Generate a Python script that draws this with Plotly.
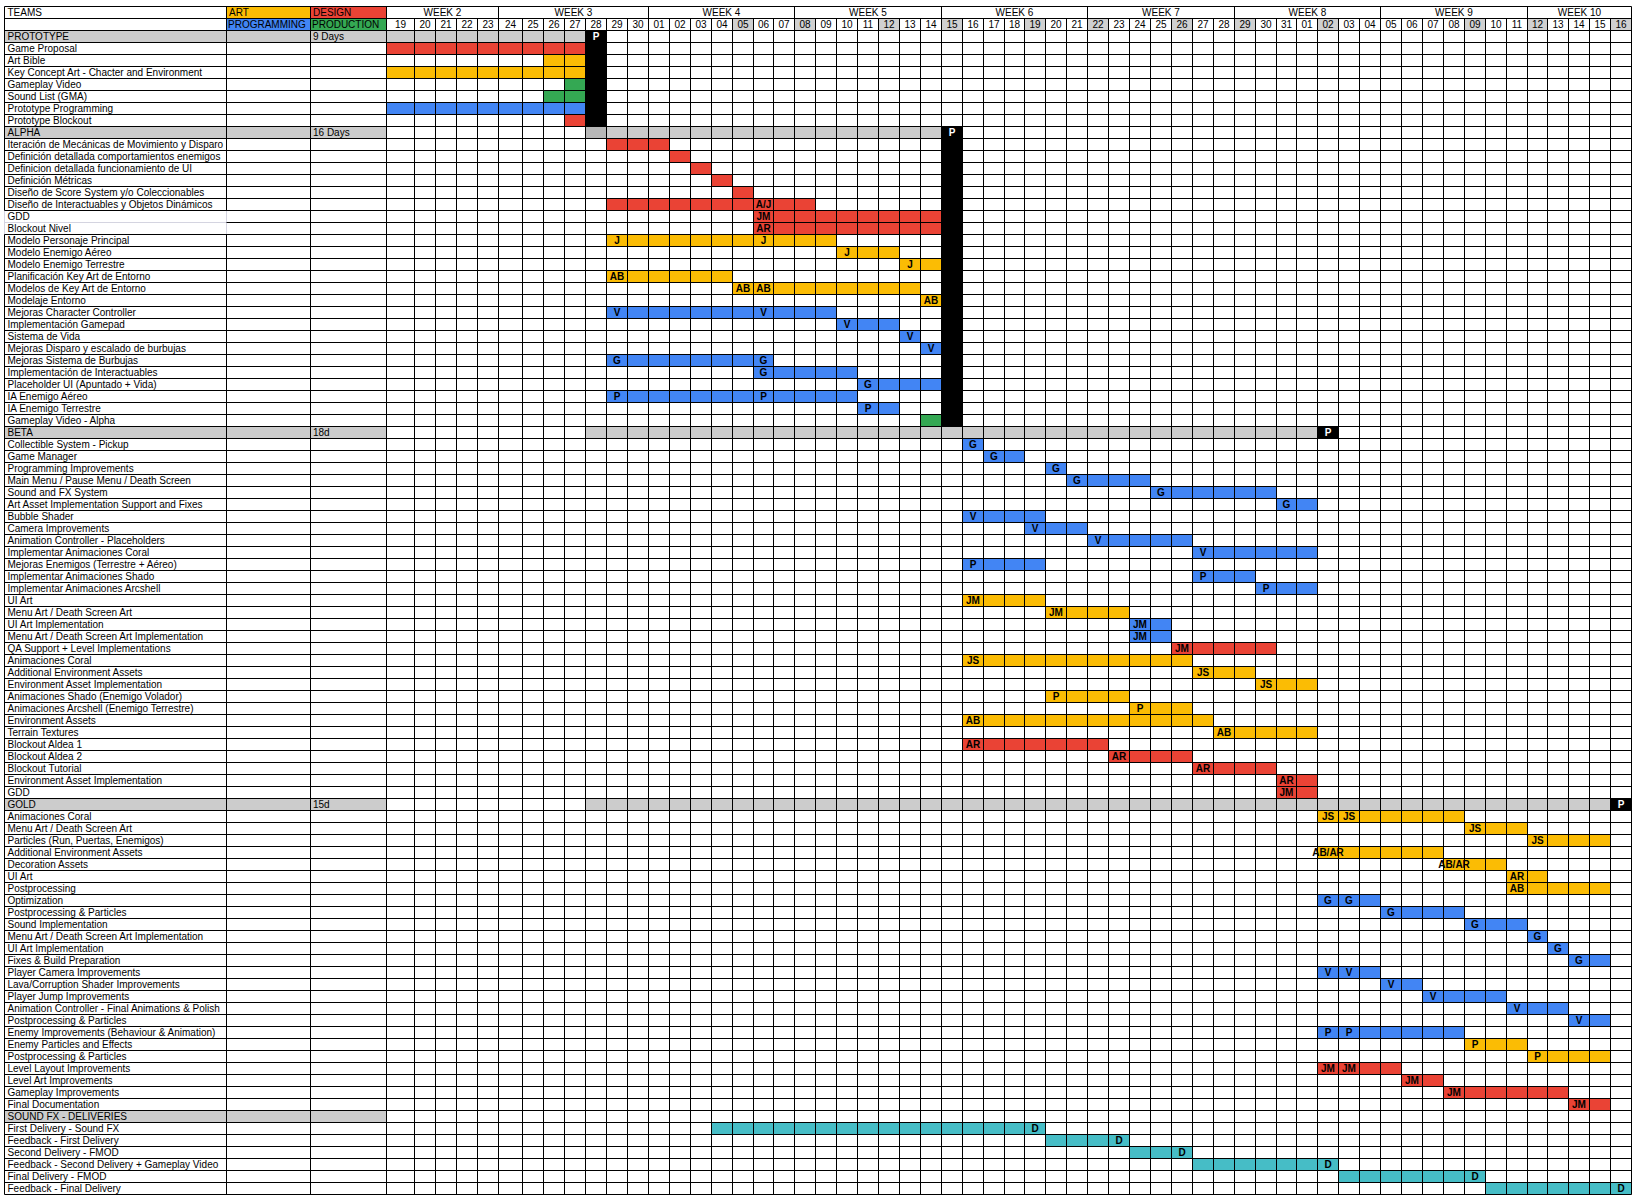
import numpy as np
import plotly.graph_objects as go

# ======================= DATA =======================
DAYS = ["19", "20", "21", "22", "23", "24", "25", "26", "27", "28", "29", "30",
        "01", "02", "03", "04", "05", "06", "07", "08", "09", "10", "11", "12", "13", "14",
        "15", "16", "17", "18", "19", "20", "21", "22", "23", "24", "25", "26", "27", "28",
        "29", "30", "31", "01", "02", "03", "04", "05", "06", "07", "08", "09", "10", "11",
        "12", "13", "14", "15", "16"]
WEEK_NAMES = ["WEEK 2", "WEEK 3", "WEEK 4", "WEEK 5", "WEEK 6", "WEEK 7", "WEEK 8", "WEEK 9", "WEEK 10"]
WEEK_FIRST_DAY = [0, 5, 12, 19, 26, 33, 40, 47, 54]
WEEK_LAST_DAY = [4, 11, 18, 25, 32, 39, 46, 53, 58]
HIGHLIGHT_DAYS = [16, 19, 23, 26, 30, 33, 37, 40, 44, 51, 54, 58]

HEADER_TITLE = "TEAMS"
TEAM_ROW1 = ["ART", "DESIGN"]
TEAM_ROW2 = ["PROGRAMMING", "PRODUCTION"]

PHASE_NAMES = ["PROTOTYPE", "ALPHA", "BETA", "GOLD", "SOUND FX - DELIVERIES"]
PHASE_DURATIONS = ["9 Days", "16 Days", "18d", "15d", ""]
PHASE_GRAY_FIRST = [0, 9, 9, 9, None]
PHASE_GRAY_LAST = [8, 25, 43, 57, None]
PHASE_DARK_DAY = [None, 9, None, None, None]
PHASE_MILESTONE_DAY = [9, 26, 44, 58, None]
PHASE_MILESTONE_SPANS_SECTION = [True, True, False, False, False]
MILESTONE_TAG = "P"

PROTO_TASKS = ["Game Proposal", "Art Bible", "Key Concept Art - Chacter and Environment",
               "Gameplay Video", "Sound List (GMA)", "Prototype Programming", "Prototype Blockout"]
PROTO_TEAMS = ["DESIGN", "ART", "ART", "PRODUCTION", "PRODUCTION", "PROGRAMMING", "DESIGN"]
PROTO_START = [0, 7, 0, 8, 7, 0, 8]
PROTO_END = [8, 8, 8, 8, 8, 8, 8]
PROTO_TAG = ["", "", "", "", "", "", ""]
PROTO_TAG_DAYS = [[], [], [], [], [], [], []]

ALPHA_TASKS = ["Iteración de Mecánicas de Movimiento y Disparo",
               "Definición detallada comportamientos enemigos",
               "Definicion detallada funcionamiento de UI", "Definición Métricas",
               "Diseño de Score System y/o Coleccionables",
               "Diseño de Interactuables y Objetos Dinámicos", "GDD", "Blockout Nivel",
               "Modelo Personaje Principal", "Modelo Enemigo Aéreo", "Modelo Enemigo Terrestre",
               "Planificación Key Art de Entorno", "Modelos de Key Art de Entorno", "Modelaje Entorno",
               "Mejoras Character Controller", "Implementación Gamepad", "Sistema de Vida",
               "Mejoras Disparo y escalado de burbujas", "Mejoras Sistema de Burbujas",
               "Implementación de Interactuables", "Placeholder UI (Apuntado + Vida)",
               "IA Enemigo Aéreo", "IA Enemigo Terrestre", "Gameplay Video - Alpha"]
ALPHA_TEAMS = ["DESIGN"] * 8 + ["ART"] * 6 + ["PROGRAMMING"] * 9 + ["PRODUCTION"]
ALPHA_START = [10, 13, 14, 15, 16, 10, 17, 17, 10, 21, 24, 10, 16, 25, 10, 21, 24, 25, 10, 17, 22, 10, 22, 25]
ALPHA_END = [12, 13, 14, 15, 16, 19, 25, 25, 20, 23, 25, 15, 24, 25, 20, 23, 24, 25, 17, 21, 25, 21, 23, 25]
ALPHA_TAG = ["", "", "", "", "", "A/J", "JM", "AR", "J", "J", "J", "AB", "AB", "AB",
             "V", "V", "V", "V", "G", "G", "G", "P", "P", ""]
ALPHA_TAG_DAYS = [[], [], [], [], [], [17], [17], [17], [10, 17], [21], [24], [10], [16, 17], [25],
                  [10, 17], [21], [24], [25], [10, 17], [17], [22], [10, 17], [22], []]
ALPHA_LIGHT_BORDER_TASKS = ["GDD", "Blockout Nivel"]

BETA_TASKS = ["Collectible System - Pickup", "Game Manager", "Programming Improvements",
              "Main Menu / Pause Menu / Death Screen", "Sound and FX System",
              "Art Asset Implementation Support and Fixes", "Bubble Shader", "Camera Improvements",
              "Animation Controller - Placeholders", "Implementar Animaciones Coral",
              "Mejoras Enemigos (Terrestre + Aéreo)", "Implementar Animaciones Shado",
              "Implementar Animaciones Arcshell", "UI Art", "Menu Art / Death Screen Art",
              "UI Art Implementation", "Menu Art / Death Screen Art Implementation",
              "QA Support + Level Implementations", "Animaciones Coral",
              "Additional Environment Assets", "Environment Asset Implementation",
              "Animaciones Shado (Enemigo Volador)", "Animaciones Arcshell (Enemigo Terrestre)",
              "Environment Assets", "Terrain Textures", "Blockout Aldea 1", "Blockout Aldea 2",
              "Blockout Tutorial", "Environment Asset Implementation", "GDD"]
BETA_TEAMS = (["PROGRAMMING"] * 13 + ["ART", "ART", "PROGRAMMING", "PROGRAMMING", "DESIGN"]
              + ["ART"] * 7 + ["DESIGN"] * 5)
BETA_START = [27, 28, 31, 32, 36, 42, 27, 30, 33, 38, 27, 38, 41, 27, 31, 35, 35, 37, 27, 38,
              41, 31, 35, 27, 39, 27, 34, 38, 42, 42]
BETA_END = [27, 29, 31, 35, 41, 43, 30, 32, 37, 43, 30, 40, 43, 30, 34, 36, 36, 41, 37, 40,
            43, 34, 37, 38, 43, 33, 37, 41, 43, 43]
BETA_TAG = (["G"] * 6 + ["V"] * 4 + ["P"] * 3 + ["JM"] * 5 + ["JS"] * 3 + ["P"] * 2
            + ["AB"] * 2 + ["AR"] * 4 + ["JM"])
BETA_TAG_DAYS = [[27], [28], [31], [32], [36], [42], [27], [30], [33], [38], [27], [38], [41],
                 [27], [31], [35], [35], [37], [27], [38], [41], [31], [35], [27], [39], [27],
                 [34], [38], [42], [42]]

GOLD_TASKS = ["Animaciones Coral", "Menu Art / Death Screen Art", "Particles (Run, Puertas, Enemigos)",
              "Additional Environment Assets", "Decoration Assets", "UI Art", "Postprocessing",
              "Optimization", "Postprocessing & Particles", "Sound Implementation",
              "Menu Art / Death Screen Art Implementation", "UI Art Implementation",
              "Fixes & Build Preparation", "Player Camera Improvements",
              "Lava/Corruption Shader Improvements", "Player Jump Improvements",
              "Animation Controller - Final Animations & Polish", "Postprocessing & Particles",
              "Enemy Improvements (Behaviour & Animation)", "Enemy Particles and Effects",
              "Postprocessing & Particles", "Level Layout Improvements", "Level Art Improvements",
              "Gameplay Improvements", "Final Documentation"]
GOLD_TEAMS = ["ART"] * 7 + ["PROGRAMMING"] * 12 + ["ART", "ART"] + ["DESIGN"] * 4
GOLD_START = [44, 51, 54, 44, 50, 53, 53, 44, 47, 51, 54, 55, 56, 44, 47, 49, 53, 56, 44, 51,
              54, 44, 48, 50, 56]
GOLD_END = [50, 53, 57, 49, 52, 54, 57, 46, 50, 53, 54, 55, 57, 46, 48, 52, 55, 57, 50, 53,
            57, 47, 49, 55, 57]
GOLD_TAG = ["JS", "JS", "JS", "AB/AR", "AB/AR", "AR", "AB", "G", "G", "G", "G", "G", "G",
            "V", "V", "V", "V", "V", "P", "P", "P", "JM", "JM", "JM", "JM"]
GOLD_TAG_DAYS = [[44, 45], [51], [54], [44], [50], [53], [53], [44, 45], [47], [51], [54], [55],
                 [56], [44, 45], [47], [49], [53], [56], [44, 45], [51], [54], [44, 45], [48],
                 [50], [56]]

SOUND_TASKS = ["First Delivery - Sound FX", "Feedback - First Delivery", "Second Delivery - FMOD",
               "Feedback - Second Delivery + Gameplay Video", "Final Delivery - FMOD",
               "Feedback - Final Delivery"]
SOUND_TEAMS = ["SOUND"] * 6
SOUND_START = [15, 31, 35, 38, 45, 52]
SOUND_END = [30, 34, 37, 44, 51, 58]
SOUND_TAG = ["D"] * 6
SOUND_TAG_DAYS = [[30], [34], [37], [44], [51], [58]]

# ======================= STYLE / LAYOUT =======================
TEAM_COLORS = {"ART": "#fbbc04", "DESIGN": "#ea4335", "PROGRAMMING": "#4285f4",
               "PRODUCTION": "#34a853", "SOUND": "#46bdc6"}
GRAY = "#cccccc"
DARK_GRAY = "#b7b7b7"
HEAD_GRAY = "#d0d0d0"
LINE = "#000000"
LIGHT_LINE = "#d4d4e0"
FONT = "Liberation Sans, Arial, sans-serif"

W, H = 1640, 1203
ROW_H = 12.0
TOP_PX = 6.5
LEFT_PX = 4
TEXT_COL_W = [222.3, 84.0, 75.2]
DAY_W = [28.9, 21.0, 21.0, 21.0, 21.0, 24.0] + [20.92] * (len(DAYS) - 6)

edges = LEFT_PX + np.concatenate([[0], np.cumsum(TEXT_COL_W + DAY_W)])
edges = np.round(edges) + 0.5
NAME_L, T1_L, T2_L, DAY_L = edges[0], edges[1], edges[2], edges[3]


def day_l(d):
    return edges[3 + d]


def day_r(d):
    return edges[4 + d]


sections = [
    (PROTO_TASKS, PROTO_TEAMS, PROTO_START, PROTO_END, PROTO_TAG, PROTO_TAG_DAYS),
    (ALPHA_TASKS, ALPHA_TEAMS, ALPHA_START, ALPHA_END, ALPHA_TAG, ALPHA_TAG_DAYS),
    (BETA_TASKS, BETA_TEAMS, BETA_START, BETA_END, BETA_TAG, BETA_TAG_DAYS),
    (GOLD_TASKS, GOLD_TEAMS, GOLD_START, GOLD_END, GOLD_TAG, GOLD_TAG_DAYS),
    (SOUND_TASKS, SOUND_TEAMS, SOUND_START, SOUND_END, SOUND_TAG, SOUND_TAG_DAYS),
]
NROWS = 2 + sum(1 + len(s[0]) for s in sections)

# ---- cells (bars) ----
bx, bb, by, bw, bc = [], [], [], [], []


def cell(r0, r1, x0, x1, color):
    bb.append(x0)
    bx.append(x1 - x0)
    by.append((r0 + r1 + 1) / 2.0)
    bw.append(r1 - r0 + 1)
    bc.append(color)


# ---- texts ----
TY = 0.56  # text position inside a row (row units)
left_x, left_y, left_t = [], [], []
mid_x, mid_y, mid_t = [], [], []
tag_x, tag_y, tag_t = [], [], []
ms_x, ms_y, ms_t = [], [], []

# header
cell(0, 0, T1_L, T2_L, TEAM_COLORS[TEAM_ROW1[0]])
cell(0, 0, T2_L, DAY_L, TEAM_COLORS[TEAM_ROW1[1]])
cell(1, 1, T1_L, T2_L, TEAM_COLORS[TEAM_ROW2[0]])
cell(1, 1, T2_L, DAY_L, TEAM_COLORS[TEAM_ROW2[1]])
left_x += [NAME_L + 3, T1_L + 2.5, T2_L + 2.5, T1_L + 1.5, T2_L + 1.5]
left_y += [TY, TY, TY, 1 + TY, 1 + TY]
left_t += [HEADER_TITLE, TEAM_ROW1[0], TEAM_ROW1[1], TEAM_ROW2[0], TEAM_ROW2[1]]
for d in HIGHLIGHT_DAYS:
    cell(1, 1, day_l(d), day_r(d), HEAD_GRAY)
for name, a, b in zip(WEEK_NAMES, WEEK_FIRST_DAY, WEEK_LAST_DAY):
    mid_x.append((day_l(a) + day_r(b)) / 2)
    mid_y.append(TY)
    mid_t.append(name)
for d, lab in enumerate(DAYS):
    mid_x.append((day_l(d) + day_r(d)) / 2)
    mid_y.append(1 + TY)
    mid_t.append(lab)

light_rows = []
row = 2
for si, (tasks, teams, starts, ends, tags, tag_days) in enumerate(sections):
    prow = row
    last = row + len(tasks)
    cell(prow, prow, NAME_L, DAY_L, GRAY)
    left_x += [NAME_L + 3, T2_L + 2.5]
    left_y += [prow + TY, prow + TY]
    left_t += [PHASE_NAMES[si], PHASE_DURATIONS[si]]
    if PHASE_GRAY_FIRST[si] is not None:
        cell(prow, prow, day_l(PHASE_GRAY_FIRST[si]), day_r(PHASE_GRAY_LAST[si]), GRAY)
    if PHASE_DARK_DAY[si] is not None:
        dd = PHASE_DARK_DAY[si]
        cell(prow, prow, day_l(dd), day_r(dd), DARK_GRAY)
    if PHASE_MILESTONE_DAY[si] is not None:
        md = PHASE_MILESTONE_DAY[si]
        cell(prow, last if PHASE_MILESTONE_SPANS_SECTION[si] else prow, day_l(md), day_r(md), "#000000")
        ms_x.append((day_l(md) + day_r(md)) / 2)
        ms_y.append(prow + TY)
        ms_t.append(MILESTONE_TAG)
    for k, (nm, tm, s, e, tg, tds) in enumerate(zip(tasks, teams, starts, ends, tags, tag_days)):
        r = prow + 1 + k
        cell(r, r, day_l(s), day_r(e), TEAM_COLORS[tm])
        left_x.append(NAME_L + 3)
        left_y.append(r + TY)
        left_t.append(nm)
        for td in tds:
            tag_x.append((day_l(td) + day_r(td)) / 2)
            tag_y.append(r + TY)
            tag_t.append(tg)
        if si == 1 and nm in ALPHA_LIGHT_BORDER_TASKS:
            light_rows.append(r)
    row = last + 1

# ---- grid lines ----
lx, ly, gx, gy = [], [], [], []


def seg(xs, ys, x0, y0, x1, y1):
    xs.extend([x0, x1, None])
    ys.extend([y0, y1, None])


lt, lb = (min(light_rows), max(light_rows) + 1) if light_rows else (None, None)
for b in range(NROWS + 1):
    if lt is not None and lt < b < lb:
        seg(gx, gy, NAME_L, b, T1_L, b)
        seg(lx, ly, T1_L, b, edges[-1], b)
    else:
        seg(lx, ly, NAME_L, b, edges[-1], b)
for xe in (NAME_L, T1_L):
    if lt is not None:
        seg(lx, ly, xe, 0, xe, lt)
        seg(gx, gy, xe, lt, xe, lb)
        seg(lx, ly, xe, lb, xe, NROWS)
    else:
        seg(lx, ly, xe, 0, xe, NROWS)
for xe in (T2_L, DAY_L, edges[-1]):
    seg(lx, ly, xe, 0, xe, NROWS)
for d in range(1, len(DAYS)):
    top = 0 if d in WEEK_FIRST_DAY else 1
    seg(lx, ly, day_l(d), top, day_l(d), NROWS)

# ======================= FIGURE =======================
fig = go.Figure()
fig.add_trace(go.Bar(orientation="h", y=by, x=bx, base=bb, width=bw,
                     marker=dict(color=bc, line=dict(width=0)), hoverinfo="skip"))
fig.add_trace(go.Scatter(x=gx, y=gy, mode="lines", line=dict(color=LIGHT_LINE, width=1),
                         hoverinfo="skip"))
fig.add_trace(go.Scatter(x=lx, y=ly, mode="lines", line=dict(color=LINE, width=1),
                         hoverinfo="skip"))
fig.add_trace(go.Scatter(x=left_x, y=left_y, text=left_t, mode="text", textposition="middle right",
                         textfont=dict(family=FONT, size=10, color="#000000"), hoverinfo="skip"))
fig.add_trace(go.Scatter(x=mid_x, y=mid_y, text=mid_t, mode="text", textposition="middle center",
                         textfont=dict(family=FONT, size=10, color="#000000"), hoverinfo="skip"))
fig.add_trace(go.Scatter(x=tag_x, y=tag_y, text=tag_t, mode="text", textposition="middle center",
                         textfont=dict(family=FONT, size=10, color="#000000", weight="bold"),
                         hoverinfo="skip"))
fig.add_trace(go.Scatter(x=ms_x, y=ms_y, text=ms_t, mode="text", textposition="middle center",
                         textfont=dict(family=FONT, size=10, color="#ffffff", weight="bold"),
                         hoverinfo="skip"))

fig.update_layout(
    width=W, height=H, autosize=False, showlegend=False, barmode="overlay",
    margin=dict(l=0, r=0, t=0, b=0, pad=0),
    paper_bgcolor="#ffffff", plot_bgcolor="#ffffff",
    xaxis=dict(range=[0, W], visible=False, showgrid=False, zeroline=False, fixedrange=True),
    yaxis=dict(range=[(H - TOP_PX) / ROW_H, -TOP_PX / ROW_H], visible=False, showgrid=False,
               zeroline=False, fixedrange=True),
)
fig.write_html("out.html", config={"displayModeBar": False, "staticPlot": True})
